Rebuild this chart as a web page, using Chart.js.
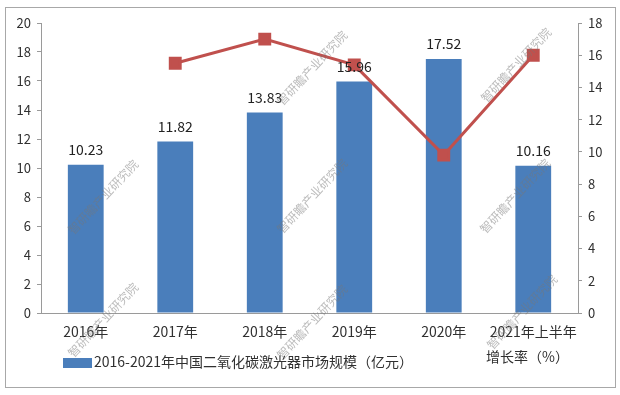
<!DOCTYPE html>
<html>
<head>
<meta charset="utf-8">
<script src="https://cdn.jsdelivr.net/npm/chart.js@4.4.0/dist/chart.umd.min.js"></script>
<style>
  html, body { margin: 0; padding: 0; background: #fff; }
  #wrap { position: relative; width: 620px; height: 395px; }
</style>
</head>
<body>
<div id="wrap"><canvas id="laserChart" width="620" height="395"></canvas></div>
<script>
// --------------------------
// data
// --------------------------
const categories = ["2016年", "2017年", "2018年", "2019年", "2020年", "2021年上半年"];
const marketSize = [10.23, 11.82, 13.83, 15.96, 17.52, 10.16];   // 亿元
const growthRate = [null, 15.5, 17.0, 15.4, 9.8, 16.0];           // %
const barLabel = "2016-2021年中国二氧化碳激光器市场规模（亿元）";
const lineLabel = "增长率（%）";
const watermark = "智研瞻产业研究院";

const FONT = "'Noto Sans CJK SC', 'DejaVu Sans', sans-serif";
const BLUE = "#4a7ebb";
const RED = "#c0504d";
const AXIS = "#9a9a9a";
const TEXT = "#303030";

// --------------------------
// plugins
// --------------------------
// подписи над столбцами
const barValuesPlugin = {
  id: "barValues",
  afterDatasetsDraw(chart) {
    const ctx = chart.ctx;
    const meta = chart.getDatasetMeta(0);
    ctx.save();
    ctx.font = "14px " + FONT;
    ctx.fillStyle = "#222";
    ctx.textAlign = "center";
    ctx.textBaseline = "middle";
    meta.data.forEach((bar, i) => {
      ctx.fillText(marketSize[i].toFixed(2), bar.x, bar.y - 15);
    });
    ctx.restore();
  }
};

// рамка, легенда, водяные знаки
const decorPlugin = {
  id: "decor",
  beforeDraw(chart) {
    const ctx = chart.ctx;
    ctx.save();
    ctx.fillStyle = "#fff";
    ctx.fillRect(0, 0, chart.width, chart.height);
    ctx.strokeStyle = "#a8a8a8";
    ctx.lineWidth = 1;
    ctx.strokeRect(5.5, 7.5, 610, 380);
    ctx.restore();
  },
  afterDraw(chart) {
    const ctx = chart.ctx;
    ctx.save();
    // legend
    ctx.fillStyle = BLUE;
    ctx.fillRect(63, 358, 29, 10);
    ctx.font = "14px " + FONT;
    ctx.fillStyle = TEXT;
    ctx.textAlign = "left";
    ctx.textBaseline = "middle";
    ctx.fillText(chart.data.datasets[0].label, 94, 362);
    ctx.fillText(chart.data.datasets[1].label, 486, 357);

    // watermarks
    const spots = [[312, 68], [516, 65], [103, 197], [312, 196], [515, 196], [103, 320], [312, 322], [522, 312]];
    ctx.font = "12px " + FONT;
    ctx.fillStyle = "rgba(120,120,120,0.5)";
    ctx.textAlign = "center";
    spots.forEach(([x, y]) => {
      ctx.save();
      ctx.translate(x, y);
      ctx.rotate(-47 * Math.PI / 180);
      ctx.fillText(watermark, 0, 0);
      ctx.restore();
    });
    ctx.restore();
  }
};

// --------------------------
// chart
// --------------------------
function axisTicks(color) {
  return { color, font: { size: 13, family: FONT }, padding: 6 };
}

function createLaserChart() {
  const canvas = document.getElementById("laserChart");
  return new Chart(canvas.getContext("2d"), {
    data: {
      labels: categories,
      datasets: [
        {
          type: "bar",
          label: barLabel,
          data: marketSize,
          backgroundColor: BLUE,
          borderWidth: 0,
          yAxisID: "y",
          barPercentage: 0.4,
          categoryPercentage: 1,
          order: 2
        },
        {
          type: "line",
          label: lineLabel,
          data: growthRate,
          borderColor: RED,
          backgroundColor: RED,
          borderWidth: 3,
          pointStyle: "rect",
          pointRadius: 7,
          pointHoverRadius: 7,
          tension: 0,
          yAxisID: "y2",
          order: 1
        }
      ]
    },
    options: {
      responsive: false,
      animation: false,
      layout: { padding: { top: 23, left: 0, right: 0, bottom: 0 } },
      plugins: {
        legend: { display: false },
        tooltip: { enabled: false }
      },
      scales: {
        x: {
          grid: { display: false },
          border: { color: AXIS },
          ticks: { color: TEXT, font: { size: 14, family: FONT }, padding: 2, maxRotation: 0, autoSkip: false },
          afterFit: s => { s.height = 82; }
        },
        y: {
          position: "left",
          min: 0,
          max: 20,
          ticks: { ...axisTicks(TEXT), stepSize: 2 },
          grid: { drawOnChartArea: false, tickLength: 4, color: AXIS },
          border: { color: AXIS },
          afterFit: s => { s.width = 41; }
        },
        y2: {
          position: "right",
          min: 0,
          max: 18,
          ticks: { ...axisTicks(TEXT), stepSize: 2 },
          grid: { drawOnChartArea: false, tickLength: 4, color: AXIS },
          border: { color: AXIS },
          afterFit: s => { s.width = 42; }
        }
      }
    },
    plugins: [decorPlugin, barValuesPlugin]
  });
}

createLaserChart();
</script>
</body>
</html>
